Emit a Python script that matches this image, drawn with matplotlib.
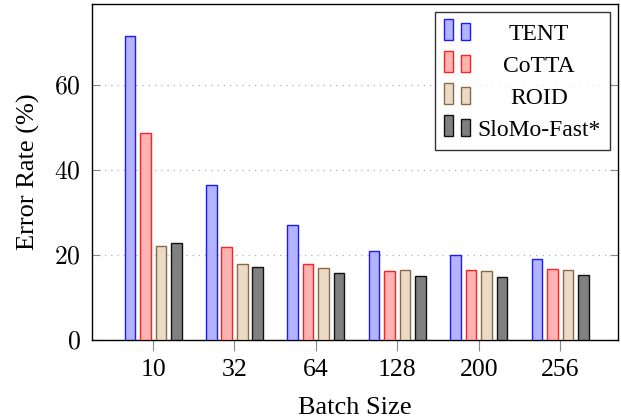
import matplotlib
matplotlib.use("Agg")
import matplotlib.pyplot as plt
import matplotlib.patches as mpatches
from matplotlib.legend_handler import HandlerBase
from matplotlib.ticker import FuncFormatter
import numpy as np

plt.rcParams["font.family"] = ["Liberation Serif", "DejaVu Serif"]
plt.rcParams["mathtext.fontset"] = "cm"

batch_sizes = ["10", "32", "64", "128", "200", "256"]
methods = ["TENT", "CoTTA", "ROID", "SloMo-Fast*"]
tent = [71.5, 36.5, 27.0, 21.0, 20.1, 19.1]
cotta = [48.7, 21.9, 17.8, 16.2, 16.5, 16.6]
roid = [22.0, 17.9, 16.9, 16.5, 16.2, 16.5]
slomo = [22.7, 17.2, 15.8, 15.1, 14.9, 15.2]
series = [tent, cotta, roid, slomo]

fills = ["#b3b3ff", "#ffb3b3", "#ebdac6", "#808080"]
edges = ["#1a1aff", "#ff2020", "#8c6a45", "#111111"]

fig = plt.figure(figsize=(6.21, 4.19), dpi=100)
ax = fig.add_axes([92 / 621, 1 - 340 / 419, (618 - 92) / 621, (340 - 4) / 419])

x = np.arange(len(batch_sizes))
width = 0.13
step = 0.19
for i, vals in enumerate(series):
    ax.bar(x + (i - 1.5) * step, vals, width, color=fills[i],
           edgecolor=edges[i], linewidth=1.0, label=methods[i], zorder=3)

ax.set_xlim(-0.75, 5.71)
ax.set_ylim(0, 79)
ax.set_xticks(x)
ax.set_xticklabels(batch_sizes)
ax.set_yticks([0, 20, 40, 60])
ax.yaxis.set_major_formatter(FuncFormatter(lambda v, p: f"${int(v)}$"))
ax.yaxis.grid(True, linestyle=(0, (1, 4)), color="#b0b0b0", linewidth=0.9, zorder=0)

ax.tick_params(axis="y", direction="in", length=6, color="#888888", labelsize=18.5,
               right=True, pad=8)
ax.tick_params(axis="x", direction="out", length=8, color="#888888", labelsize=18.5,
               pad=6)
for s in ax.spines.values():
    s.set_linewidth(1.0)
    s.set_color("black")

ax.set_xlabel("Batch Size", fontsize=19, labelpad=11.5)
ax.set_ylabel("Error Rate (%)", fontsize=19, labelpad=10)


class TwoBarHandler(HandlerBase):
    def create_artists(self, legend, orig_handle, xdescent, ydescent,
                       width, height, fontsize, trans):
        fc = orig_handle.get_facecolor()
        ec = orig_handle.get_edgecolor()
        w = 6.3
        r1 = mpatches.Rectangle((-xdescent, 0), w, 15,
                                facecolor=fc, edgecolor=ec, linewidth=1.0,
                                transform=trans)
        r2 = mpatches.Rectangle((-xdescent + 12.2, 0), w, 12.3,
                                facecolor=fc, edgecolor=ec, linewidth=1.0,
                                transform=trans)
        return [r1, r2]


handles = [mpatches.Rectangle((0, 0), 1, 1, facecolor=fills[i], edgecolor=edges[i])
           for i in range(4)]
leg = ax.legend(handles, methods, loc="upper right", fontsize=17,
                handler_map={mpatches.Rectangle: TwoBarHandler()},
                handlelength=1.1, handleheight=1.0, handletextpad=0.3,
                labelspacing=0.35, borderpad=0.4, borderaxespad=0.33,
                frameon=True, fancybox=False, edgecolor="black")
leg.get_frame().set_linewidth(1.0)

# center the labels within the text column
fig.canvas.draw()
texts = leg.get_texts()
widths = [t.get_window_extent().width for t in texts]
wmax = max(widths)
for t, w in zip(texts, widths):
    t.set_x((wmax - w) / 2)

fig.savefig("out.png", dpi=100)
